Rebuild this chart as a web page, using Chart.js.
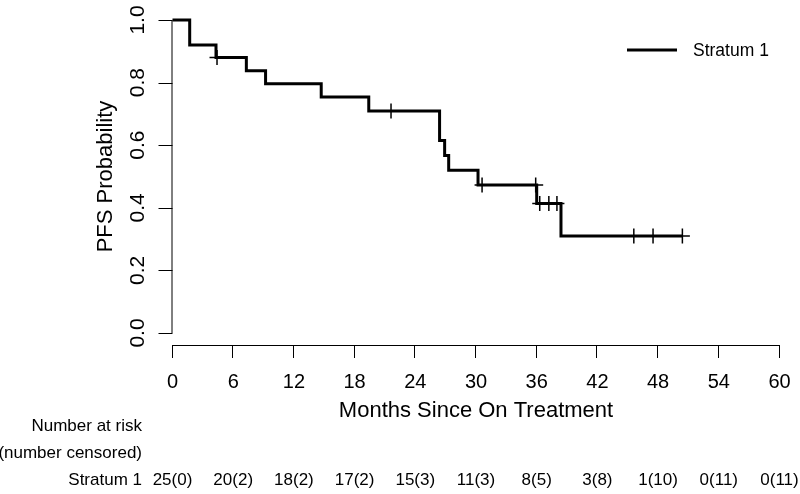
<!DOCTYPE html>
<html>
<head>
<meta charset="utf-8">
<script src="https://cdn.jsdelivr.net/npm/chart.js@4"></script>
<style>
  body { margin: 0; background: #fff; }
  #wrap { width: 800px; height: 494px; }
</style>
</head>
<body>
<div id="wrap"><canvas id="kmChart" width="800" height="494"></canvas></div>
<script>
// Kaplan-Meier steps (months, PFS probability)
var stratumLabel = 'Stratum 1';
var stepMonths = [0, 1.7, 4.3, 7.3, 9.2, 14.7, 19.4, 26.4, 26.9, 27.3, 30.2, 36.0, 38.4, 50.4];
var stepSurv   = [1, 0.92, 0.88, 0.838, 0.796, 0.754, 0.709, 0.615, 0.567, 0.52, 0.473, 0.414, 0.31, 0.31];

// censored observations (+ marks)
var censorMonths = [4.4, 21.6, 30.6, 35.9, 36.3, 37.2, 38.0, 45.6, 47.5, 50.4];
var censorSurv   = [0.88, 0.709, 0.473, 0.473, 0.414, 0.414, 0.414, 0.31, 0.31, 0.31];

// axes
var xTickValues = [0, 6, 12, 18, 24, 30, 36, 42, 48, 54, 60];
var yTickValues = [0, 0.2, 0.4, 0.6, 0.8, 1.0];
var yTickLabels = ['0.0', '0.2', '0.4', '0.6', '0.8', '1.0'];

// number at risk table (one entry per x tick)
var atRisk   = [25, 20, 18, 17, 15, 11, 8, 3, 1, 0, 0];
var censored = [0, 2, 2, 2, 3, 3, 5, 8, 10, 11, 11];

var FONT = '"Liberation Sans", Arial, Helvetica, sans-serif';

var stepData = stepMonths.map(function(m, i){ return { x: m, y: stepSurv[i] }; });
var censorData = censorMonths.map(function(m, i){ return { x: m, y: censorSurv[i] }; });

// R style axes, legend and risk table drawn off the chart scales
var rAxes = {
    id: 'rAxes',
    afterDraw: function(chart){
        var ctx = chart.ctx;
        var xs = chart.scales.x, ys = chart.scales.y;
        var x0 = xs.getPixelForValue(0), x1 = xs.getPixelForValue(60);
        var yTop = ys.getPixelForValue(1), yBot = ys.getPixelForValue(0);
        var axisY = yBot + 12;
        ctx.save();
        ctx.strokeStyle = '#000';
        ctx.lineWidth = 1;
        ctx.fillStyle = '#000';

        // y axis
        ctx.beginPath();
        ctx.moveTo(x0 - 0.5, yTop); ctx.lineTo(x0 - 0.5, yBot);
        yTickValues.forEach(function(v){
            var p = Math.round(ys.getPixelForValue(v)) + 0.5;
            ctx.moveTo(x0, p); ctx.lineTo(x0 - 14, p);
        });
        ctx.stroke();
        ctx.font = '21px ' + FONT;
        ctx.textAlign = 'center';
        ctx.textBaseline = 'middle';
        yTickValues.forEach(function(v, i){
            var p = ys.getPixelForValue(v);
            ctx.save();
            ctx.translate(x0 - 34, p);
            ctx.rotate(-Math.PI / 2);
            ctx.fillText(yTickLabels[i], 0, 0);
            ctx.restore();
        });
        ctx.save();
        ctx.translate(x0 - 67, (yTop + yBot) / 2);
        ctx.rotate(-Math.PI / 2);
        ctx.font = '22px ' + FONT;
        ctx.fillText('PFS Probability', 0, 0);
        ctx.restore();

        // x axis
        ctx.beginPath();
        ctx.moveTo(x0, axisY + 0.5); ctx.lineTo(x1, axisY + 0.5);
        xTickValues.forEach(function(v){
            var p = Math.round(xs.getPixelForValue(v)) - 0.5;
            ctx.moveTo(p, axisY); ctx.lineTo(p, axisY + 13);
        });
        ctx.stroke();
        ctx.font = '20px ' + FONT;
        xTickValues.forEach(function(v){
            ctx.fillText(String(v), xs.getPixelForValue(v), axisY + 37);
        });
        ctx.font = '22px ' + FONT;
        ctx.fillText('Months Since On Treatment', (x0 + x1) / 2, axisY + 66);

        // risk table
        ctx.font = '17px ' + FONT;
        ctx.textAlign = 'right';
        ctx.fillText('Number at risk', 142, 426);
        ctx.fillText('(number censored)', 142, 453);
        ctx.fillText(stratumLabel, 142, 480);
        ctx.textAlign = 'center';
        xTickValues.forEach(function(v, i){
            ctx.fillText(atRisk[i] + '(' + censored[i] + ')', xs.getPixelForValue(v), 480);
        });

        // legend
        ctx.lineWidth = 3;
        ctx.beginPath();
        ctx.moveTo(627, 50); ctx.lineTo(677, 50);
        ctx.stroke();
        ctx.textAlign = 'left';
        ctx.font = '17.5px ' + FONT;
        ctx.fillText(stratumLabel, 693, 51);
        ctx.restore();
    }
};

var ctx_km = document.getElementById('kmChart').getContext('2d');
var kmChart = new Chart(ctx_km, {
    type: 'line',
    data: {
        datasets: [{
            label: stratumLabel,
            data: stepData,
            stepped: true,
            borderColor: '#000',
            borderWidth: 3,
            pointRadius: 0,
            fill: false,
            clip: false
        }, {
            label: 'censored',
            type: 'scatter',
            data: censorData,
            pointStyle: 'cross',
            pointRadius: 7.5,
            borderColor: '#000',
            borderWidth: 1.5,
            clip: false
        }]
    },
    options: {
        responsive: false,
        animation: false,
        layout: {
            padding: { left: 172.5, right: 20.5, top: 20, bottom: 161 }
        },
        scales: {
            x: { type: 'linear', min: 0, max: 60, display: false },
            y: { min: 0, max: 1, display: false }
        },
        plugins: {
            legend: { display: false },
            tooltip: { enabled: false }
        }
    },
    plugins: [rAxes]
});
</script>
</body>
</html>
